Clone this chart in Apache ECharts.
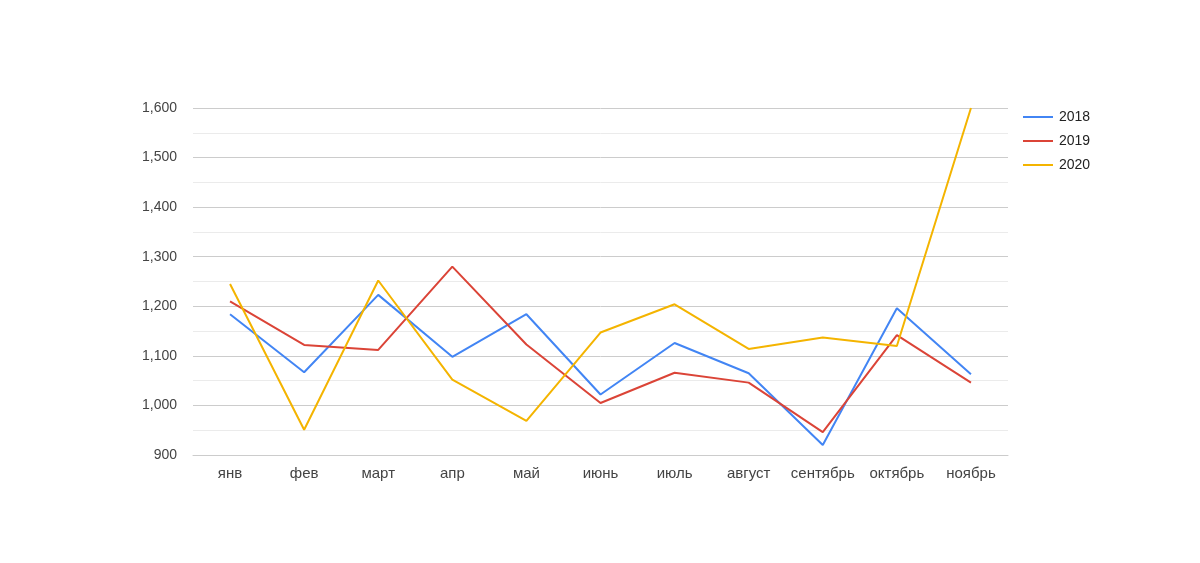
<!DOCTYPE html>
<html><head><meta charset="utf-8">
<script src="https://cdn.jsdelivr.net/npm/echarts@6/dist/echarts.min.js"></script>
<style>html,body{margin:0;padding:0;background:#fff}#c{width:1200px;height:563px}</style>
</head><body><div id="c"></div>
<script>
var categories = ['янв','фев','март','апр','май','июнь','июль','август','сентябрь','октябрь','ноябрь'];
var s2018 = [1184,1067,1223,1098,1184,1022,1126,1065,920,1196,1063];
var s2019 = [1210,1122,1112,1280,1123,1005,1066,1046,946,1142,1046];
var s2020 = [1245,951,1252,1052,969,1147,1204,1114,1137,1120,1600];
var seriesNames = ['2018','2019','2020'];
var colors = ['#4285F4','#DB4437','#F4B400'];
var font = 'Liberation Sans, Arial, sans-serif';
var chart = echarts.init(document.getElementById('c'));
var data = [s2018, s2019, s2020];
chart.setOption({
  animation:false,
  color: colors,
  grid:{left:193,right:192,top:108,bottom:108,containLabel:false},
  legend:{orient:'vertical',left:1018,top:105,itemWidth:30,itemHeight:2,itemGap:10,icon:'rect',
    textStyle:{fontFamily:font,fontSize:14,color:'#222',padding:[0,0,0,1]},data:seriesNames},
  xAxis:{type:'category',data:categories,boundaryGap:true,
    axisLine:{show:true,lineStyle:{color:'#ccc'}},axisTick:{show:false},
    axisLabel:{interval:0,fontFamily:font,fontSize:15,color:'#444',margin:11}},
  yAxis:{type:'value',min:900,max:1600,interval:100,
    axisLine:{show:false},axisTick:{show:false},
    axisLabel:{fontFamily:font,fontSize:14,color:'#444',margin:16,
      formatter:function(v){return v.toLocaleString('en-US');}},
    splitLine:{lineStyle:{color:'#ccc'}},
    minorTick:{show:false,splitNumber:2},
    minorSplitLine:{show:true,lineStyle:{color:'#ebebeb'}}},
  series: data.map(function(d,i){return {name:seriesNames[i],type:'line',data:d,symbol:'none',
    lineStyle:{width:2,color:colors[i]},itemStyle:{color:colors[i]}};})
});
</script></body></html>
